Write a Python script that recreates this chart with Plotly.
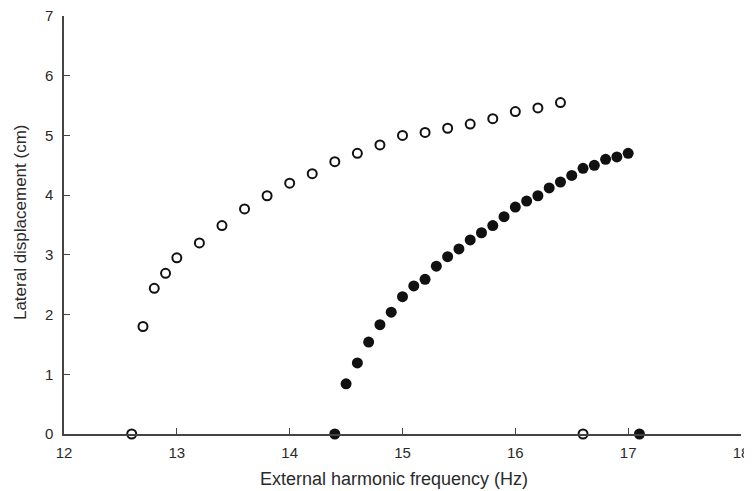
import plotly.graph_objects as go

# Open circles (upper branch)
open_x = [12.7, 12.8, 12.9, 13.0, 13.2, 13.4, 13.6, 13.8, 14.0, 14.2, 14.4,
          14.6, 14.8, 15.0, 15.2, 15.4, 15.6, 15.8, 16.0, 16.2, 16.4]
open_y = [1.80, 2.44, 2.69, 2.95, 3.20, 3.49, 3.77, 3.99, 4.20, 4.36, 4.56,
          4.70, 4.84, 5.00, 5.05, 5.12, 5.19, 5.28, 5.40, 5.46, 5.55]
# Open circles on the axis
open_zero_x = [12.6, 16.6]
open_zero_y = [0, 0]

# Filled circles (lower branch)
fill_x = [14.5, 14.6, 14.7, 14.8, 14.9, 15.0, 15.1, 15.2, 15.3, 15.4, 15.5,
          15.6, 15.7, 15.8, 15.9, 16.0, 16.1, 16.2, 16.3, 16.4, 16.5, 16.6,
          16.7, 16.8, 16.9, 17.0]
fill_y = [0.84, 1.19, 1.54, 1.83, 2.04, 2.30, 2.48, 2.59, 2.81, 2.97, 3.10,
          3.25, 3.37, 3.49, 3.64, 3.80, 3.90, 3.99, 4.12, 4.22, 4.33, 4.45,
          4.50, 4.60, 4.64, 4.70]
fill_zero_x = [14.4, 17.1]
fill_zero_y = [0, 0]

x_ticks = [12, 13, 14, 15, 16, 17, 18]
y_ticks = [0, 1, 2, 3, 4, 5, 6, 7]

x_title = "External harmonic frequency (Hz)"
y_title = "Lateral displacement (cm)"

open_marker = dict(symbol="circle-open", size=9, color="#111111",
                   line=dict(width=2, color="#111111"))
fill_marker = dict(symbol="circle", size=11, color="#111111")

fig = go.Figure()
fig.add_trace(go.Scatter(x=open_x + open_zero_x, y=open_y + open_zero_y,
                         mode="markers", marker=open_marker, cliponaxis=False,
                         showlegend=False))
fig.add_trace(go.Scatter(x=fill_x + fill_zero_x, y=fill_y + fill_zero_y,
                         mode="markers", marker=fill_marker, cliponaxis=False,
                         showlegend=False))

fam = "Liberation Sans, Arial, sans-serif"
axis_font = dict(family=fam, size=15, color="#2a2a2a")

# The page body has an 8px margin, so the figure is sized/offset to compensate
fig.update_layout(
    width=744, height=483,
    margin=dict(l=56, r=11, t=8, b=57),
    paper_bgcolor="white", plot_bgcolor="white",
    xaxis=dict(range=[12, 18], tickvals=x_ticks, ticks="inside", ticklen=6,
               tickcolor="#444444", showline=True, linecolor="#444444",
               linewidth=1.5, showgrid=False, zeroline=False, automargin=False,
               tickfont=axis_font, ticklabelstandoff=4, ticklabeloverflow="allow"),
    yaxis=dict(range=[0, 7], tickvals=y_ticks, ticks="inside", ticklen=6,
               tickcolor="#444444", showline=True, linecolor="#444444",
               linewidth=1.5, showgrid=False, zeroline=False, automargin=False,
               tickfont=axis_font, ticklabelstandoff=6, ticklabeloverflow="allow"),
    annotations=[
        dict(text=x_title, xref="paper", yref="paper", x=0.4875, y=-0.108,
             xanchor="center", yanchor="middle", showarrow=False,
             font=dict(family=fam, size=18, color="#2a2a2a")),
        dict(text=y_title, xref="paper", yref="paper", x=-0.065, y=0.507,
             xanchor="center", yanchor="middle", showarrow=False, textangle=-90,
             font=dict(family=fam, size=17, color="#2a2a2a")),
    ],
)

fig.write_html("out.html")
